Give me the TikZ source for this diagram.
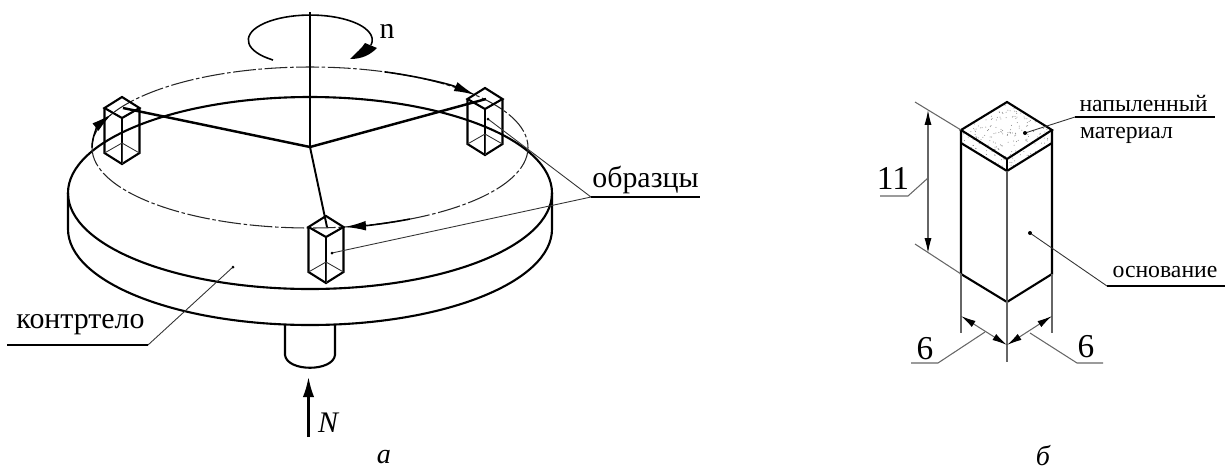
\documentclass[tikz,border=0pt]{standalone}
\usepackage{fontspec}
\setmainfont{Liberation Serif}
\usetikzlibrary{arrows.meta}
\tikzset{
  heavy/.style={black,line width=1.2pt},
  medium/.style={black,line width=0.9pt},
  thinline/.style={black!80,line width=0.5pt},
  dimline/.style={black!60,line width=0.6pt},
  dimtips/.style={{Latex[length=8.5pt,width=4pt,black]}-{Latex[length=8.5pt,width=4pt,black]}},
  motiontip/.style={-{Latex[length=12pt,width=5.5pt]}},
  axisdash/.style={black!85,line width=0.6pt,dash pattern=on 13pt off 1.5pt on 2pt off 1.5pt},
  bigtext/.style={font=\fontsize{17}{20}\selectfont,inner sep=0pt},
  midtext/.style={font=\fontsize{13.5}{16}\selectfont,inner sep=0pt},
  dimtext/.style={font=\fontsize{19}{22}\selectfont,inner sep=0pt}
}
\begin{document}
\begin{tikzpicture}[x=0.02cm,y=-0.02cm]
   \useasboundingbox (0,0) rectangle (1225,468);
   \begin{scope}
    % disk
    \coordinate (top) at (310,193);
    \coordinate (low) at (310,229);
    \coordinate (track) at (310,147.5);
    \draw[heavy] (top) ellipse [x radius=242,y radius=96];
    \draw[heavy] (68,193) -- (68,229) arc[start angle=180,end angle=0,x radius=242,y radius=96] -- (552,193);
    \draw[axisdash] (track) ellipse [x radius=218,y radius=80.5];
    % shaft
    \draw[heavy] (285,325) -- (285,355) .. controls (287,372) and (333,372) .. (335,355) -- (335,325);
    \coordinate (Ntail) at (308.5,437);
    \coordinate (Ntip) at (308.5,377);
    \draw[heavy,-{Latex[length=11.5pt,width=6.5pt]}] (Ntail) -- (Ntip);
    \node[bigtext] (Nlabel) at (328,423) {\itshape N};
    % rotation
    \coordinate (axistop) at (310,12);
    \draw[heavy] (axistop) -- (310,147.5);
    \draw[medium] (273,60) arc[start angle=127,end angle=372,x radius=62,y radius=25];
    \fill (350,59) .. controls (357,52) and (362,48) .. (365,43) -- (377,48) .. controls (370,55) and (362,59) .. cycle;
    \node[bigtext] (nlabel) at (387,31) {n};
    % samples
    \foreach \sname/\tx/\ty in {sa/122/97,sb/485/88,sc/326/216}{
      \coordinate (\sname-t) at (\tx,\ty);
      \coordinate (\sname-l) at (\tx-17.5,\ty+11);
      \coordinate (\sname-r) at (\tx+17.5,\ty+11);
      \coordinate (\sname-f) at (\tx,\ty+21);
      \coordinate (\sname-c) at (\tx+1,\ty+11);
      \coordinate (\sname-bl) at (\tx-17.5,\ty+56);
      \coordinate (\sname-br) at (\tx+17.5,\ty+56);
      \coordinate (\sname-bf) at (\tx,\ty+67);
      \coordinate (\sname-bb) at (\tx,\ty+46);
      \draw[heavy] (\sname-t) -- (\sname-r) -- (\sname-f) -- (\sname-l) -- cycle;
      \draw[heavy] (\sname-l) -- (\sname-bl) -- (\sname-bf) -- (\sname-br) -- (\sname-r);
      \draw[heavy] (\sname-f) -- (\sname-bf);
      \draw[thinline] (\sname-bl) -- (\sname-bb) -- (\sname-br);
      \draw[thinline] (\sname-bb) -- (\sname-bf);
    }
    % arms
    \coordinate (hub) at (310,147);
    \draw[heavy,line width=1.4pt] (hub) -- (sa-c);
    \draw[heavy,line width=1.4pt] (hub) -- (sb-c);
    \draw[heavy,line width=1.1pt] (hub) -- (sc-c);
    % motion arrows
    \draw[medium,motiontip] (92,147.5) arc[start angle=180,end angle=204.7,x radius=218,y radius=80.5];
    \draw[medium,motiontip] (track) ++(290:218 and 80.5) arc[start angle=290,end angle=319.2,x radius=218,y radius=80.5];
    \draw[medium,motiontip] (track) ++(62.7:218 and 80.5) arc[start angle=62.7,end angle=80.8,x radius=218,y radius=80.5];
    % labels
    \coordinate (bendA) at (591,197);
    \coordinate (endA) at (700,197);
    \coordinate (dotA) at (488,119);
    \coordinate (dotB) at (332,253);
    \draw[thinline] (dotA) -- (bendA) -- (dotB);
    \draw[medium,line width=0.7pt] (bendA) -- (endA);
    \fill (dotA) circle[radius=1.5];
    \fill (dotB) circle[radius=1.5];
    \node[bigtext] (samples) at (645.5,180) {образцы};
    \coordinate (dotC) at (233,267);
    \coordinate (bendC) at (148,345);
    \coordinate (endC) at (7,345);
    \draw[thinline] (dotC) -- (bendC);
    \draw[medium,line width=0.7pt] (bendC) -- (endC);
    \fill (dotC) circle[radius=1.5];
    \node[bigtext] (body) at (80.5,325) {контртело};
    \node[bigtext,font=\fontsize{16}{20}\selectfont\itshape] (capa) at (384,457) {а};
   \end{scope}
   \begin{scope}
    % specimen
    \coordinate (Ta) at (1007,102);
    \coordinate (Tb) at (1052,130);
    \coordinate (Tc) at (1007,159);
    \coordinate (Td) at (961,130);
    \coordinate (Ub) at (1052,143);
    \coordinate (Uc) at (1007,171);
    \coordinate (Ud) at (961,143);
    \coordinate (Bb) at (1052,274);
    \coordinate (Bc) at (1007,302);
    \coordinate (Bd) at (961,274);
    \begin{scope}
     \clip (Ta) -- (Tb) -- (Ub) -- (Uc) -- (Ud) -- (Td) -- cycle;
     \pgfmathsetseed{7}
     \foreach \i in {1,...,300}{
       \fill[black!50] ({961+91*rnd},{102+69*rnd}) circle[radius=0.5];
     }
    \end{scope}
    \draw[heavy] (Ta) -- (Tb) -- (Tc) -- (Td) -- cycle;
    \draw[heavy] (Td) -- (Bd) -- (Bc) -- (Bb) -- (Tb);
    \draw[heavy] (Ud) -- (Uc) -- (Ub);
    \draw[heavy] (Tc) -- (Uc);
    \draw[black!65,line width=1pt] (Uc) -- (Bc);
    % dimension 11
    \coordinate (extA) at (915,102);
    \coordinate (extB) at (915,244);
    \coordinate (dimA) at (928,110);
    \coordinate (dimB) at (928,253);
    \coordinate (dimM) at (928,178);
    \draw[dimline] (Td) -- (extA);
    \draw[dimline] (Bd) -- (extB);
    \draw[dimline,dimtips] (dimA) -- (dimB);
    \draw[dimline] (dimM) -- (908,196) -- (880,196);
    \node[dimtext] (height) at (893,178) {11};
    % dimensions 6
    \coordinate (Xl) at (961,333);
    \coordinate (Xm) at (1007,362);
    \coordinate (Xr) at (1052,333);
    \coordinate (Dl) at (961,316);
    \coordinate (Dm) at (1007,345);
    \coordinate (Dr) at (1052,316);
    \draw[dimline] (Bd) -- (Xl);
    \draw[dimline] (Bc) -- (Xm);
    \draw[dimline] (Bb) -- (Xr);
    \draw[dimline,dimtips] (Dl) -- (Dm);
    \draw[dimline,dimtips] (Dm) -- (Dr);
    \draw[dimline] (985,332) -- (938,363) -- (911,363);
    \draw[dimline] (1030,333) -- (1077,363) -- (1103,363);
    \node[dimtext] (widthL) at (925,349) {6};
    \node[dimtext] (widthR) at (1086,347) {6};
    % labels
    \coordinate (dotD) at (1025,133);
    \coordinate (bendD) at (1075,117);
    \coordinate (endD) at (1215,117);
    \draw[thinline] (dotD) -- (bendD);
    \draw[medium,line width=0.7pt] (bendD) -- (endD);
    \fill (dotD) circle[radius=2];
    \node[midtext] (coat) at (1143.5,103) {напыленный};
    \node[midtext] (coatb) at (1126.5,135) {материал};
    \coordinate (dotE) at (1030,233);
    \coordinate (bendE) at (1107,286);
    \coordinate (endE) at (1225,286);
    \draw[thinline] (dotE) -- (bendE);
    \draw[medium,line width=0.7pt] (bendE) -- (endE);
    \fill (dotE) circle[radius=2];
    \node[midtext] (base) at (1165,272) {основание};
    \node[bigtext,font=\fontsize{16}{20}\selectfont\itshape] (capb) at (1043,456) {б};
   \end{scope}
\end{tikzpicture}
\end{document}
